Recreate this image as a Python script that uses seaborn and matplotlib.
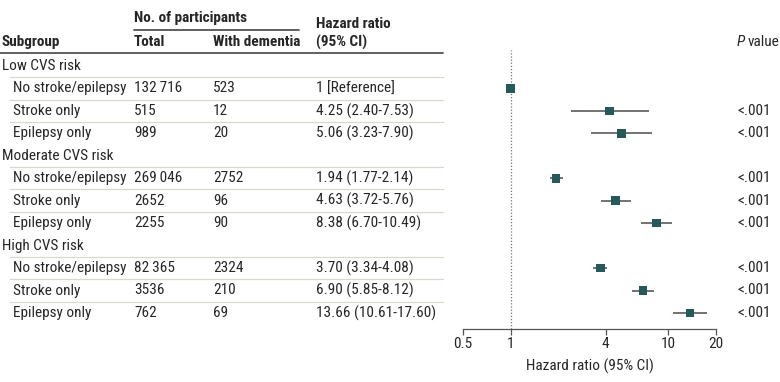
import matplotlib
matplotlib.use("Agg")
import matplotlib.pyplot as plt
import matplotlib.transforms as mtransforms
from matplotlib.lines import Line2D
import seaborn as sns
import pandas as pd
import numpy as np

sns.set_theme(style="white")
plt.rcParams['font.family'] = ['Roboto Condensed', 'Lato', 'DejaVu Sans']

# ---- data ----
groups = ["Low CVS risk", "Moderate CVS risk", "High CVS risk"]
subgroups = ["No stroke/epilepsy", "Stroke only", "Epilepsy only"]
totals = ["132\u2009716", "515", "989",
          "269\u2009046", "2652", "2255",
          "82\u2009365", "3536", "762"]
dementia = ["523", "12", "20",
            "2752", "96", "90",
            "2324", "210", "69"]
hr = [1.0, 4.25, 5.06, 1.94, 4.63, 8.38, 3.70, 6.90, 13.66]
lo = [np.nan, 2.40, 3.23, 1.77, 3.72, 6.70, 3.34, 5.85, 10.61]
hi = [np.nan, 7.53, 7.90, 2.14, 5.76, 10.49, 4.08, 8.12, 17.60]
hr_text = ["1 [Reference]", "4.25 (2.40-7.53)", "5.06 (3.23-7.90)",
           "1.94 (1.77-2.14)", "4.63 (3.72-5.76)", "8.38 (6.70-10.49)",
           "3.70 (3.34-4.08)", "6.90 (5.85-8.12)", "13.66 (10.61-17.60)"]
pvals = ["", "<.001", "<.001", "<.001", "<.001", "<.001", "<.001", "<.001", "<.001"]
xticks = [0.5, 1, 4, 10, 20]
xticklabels = ["0.5", "1", "4", "10", "20"]

rows = []
for gi, g in enumerate(groups):
    for si, s in enumerate(subgroups):
        rows.append(gi * 4 + 1 + si)
df = pd.DataFrame({"row": rows, "hr": hr, "lo": lo, "hi": hi})

W, H = 780, 382
fig = plt.figure(figsize=(W / 100, H / 100), dpi=100)
fig.patch.set_facecolor("white")

def fx(px):
    return px / W

def fy(py):
    return 1 - py / H

ax_left, ax_right, ax_top, ax_bottom = 463, 716, 50, 329
ax = fig.add_axes([fx(ax_left), fy(ax_bottom), fx(ax_right - ax_left), (ax_bottom - ax_top) / H])

row0_y, row_step = 66, 22.45
def ry(py):
    return (py - row0_y) / row_step

ax.set_xscale("log")
ax.set_xlim(0.5, 20)
ax.set_ylim(ry(ax_bottom), ry(ax_top))

ci = df.dropna()
ax.hlines(ci["row"], ci["lo"], ci["hi"], color="#5a5a5a", lw=1.2, zorder=2)
ax.axvline(1, color="#777777", lw=0.9, ls=(0, (1, 1.5)), zorder=1)
sns.scatterplot(data=df, x="hr", y="row", marker="s", s=38, color="#265a5a",
                edgecolor="none", ax=ax, zorder=3, legend=False)

for sp in ["top", "right", "left"]:
    ax.spines[sp].set_visible(False)
ax.spines["bottom"].set_color("#555555")
ax.spines["bottom"].set_linewidth(0.9)
ax.set_xticks(xticks)
ax.set_xticklabels(xticklabels)
ax.xaxis.set_minor_locator(matplotlib.ticker.NullLocator())
fs = 11
ax.tick_params(axis="x", direction="out", length=4, width=0.9, color="#555555",
               labelsize=fs, pad=2, bottom=True)
ax.set_yticks([])
ax.set_ylabel("")
ax.set_xlabel("Hazard ratio (95% CI)", fontsize=fs, labelpad=5)
ax.grid(False)

tr = mtransforms.blended_transform_factory(fig.transFigure, ax.transData)

hdr_y = ry(42)
fig.text(fx(134), fy(18), "No. of participants", fontsize=fs, fontweight="bold", va="center", ha="left")
fig.add_artist(Line2D([fx(134), fx(299)], [fy(30), fy(30)], color="#444444", lw=1.2))
for x, t in [(2, "Subgroup"), (134, "Total"), (213, "With dementia"), (316, "(95% CI)")]:
    ax.text(fx(x), hdr_y, t, transform=tr, fontsize=fs, fontweight="bold", va="center", ha="left", clip_on=False)
ax.text(fx(316), ry(24), "Hazard ratio", transform=tr, fontsize=fs, fontweight="bold", va="center", ha="left", clip_on=False)
ax.text(fx(737), hdr_y, "P", transform=tr, fontsize=fs, fontstyle="italic", va="center", ha="left", clip_on=False)
ax.text(fx(748), hdr_y, "value", transform=tr, fontsize=fs, va="center", ha="left", clip_on=False)
fig.add_artist(Line2D([0, fx(443)], [fy(53), fy(53)], color="#444444", lw=1.2))

for gi, g in enumerate(groups):
    ax.text(fx(2), gi * 4, g, transform=tr, fontsize=fs, va="center", ha="left", clip_on=False)
for i, r in enumerate(rows):
    ax.text(fx(13), r, subgroups[i % 3], transform=tr, fontsize=fs, va="center", ha="left", clip_on=False)
    ax.text(fx(134), r, totals[i], transform=tr, fontsize=fs, va="center", ha="left", clip_on=False)
    ax.text(fx(213), r, dementia[i], transform=tr, fontsize=fs, va="center", ha="left", clip_on=False)
    ax.text(fx(316), r, hr_text[i], transform=tr, fontsize=fs, va="center", ha="left", clip_on=False)
    if pvals[i]:
        ax.text(fx(737), r, pvals[i], transform=tr, fontsize=fs, va="center", ha="left", clip_on=False)
    ax.add_line(Line2D([fx(10), fx(443)], [r - 0.5, r - 0.5], transform=tr, color="#d8d8d0",
                       lw=0.9, clip_on=False))

fig.savefig("out.png", dpi=100)
